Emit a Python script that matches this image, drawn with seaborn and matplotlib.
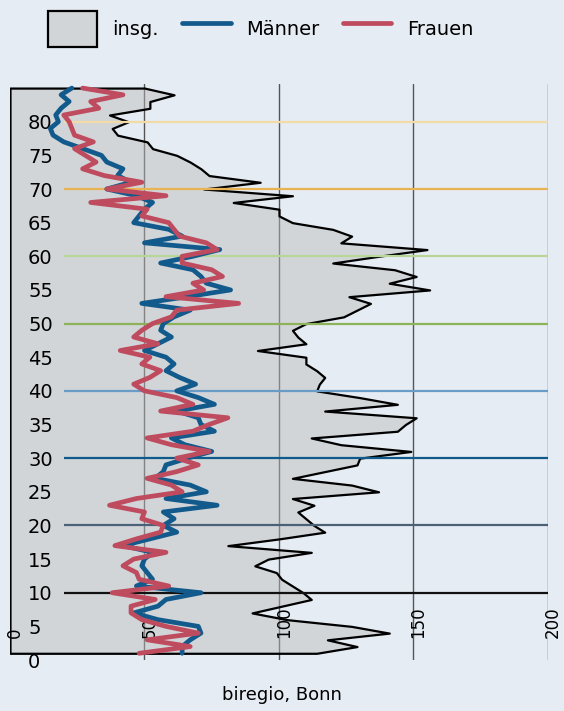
import matplotlib.pyplot as plt
import matplotlib.transforms as mtransforms
import seaborn as sns

# Daten: Alter 1..85, Einwohner je Altersjahr
alter = list(range(1, 86))

insg = [114, 129, 118, 141, 127, 103, 90, 101, 112, 109,
        105, 101, 99, 91, 96, 112, 81, 100, 117, 113,
        110, 107, 113, 105, 137, 127, 105, 117, 129, 130,
        149, 123, 112, 144, 147, 151, 117, 144, 130, 114,
        115, 117, 114, 110, 110, 92, 110, 107, 105, 110,
        124, 129, 134, 126, 156, 141, 151, 143, 120, 137,
        155, 123, 127, 120, 105, 100, 100, 83, 105, 72,
        93, 74, 71, 67, 62, 53, 51, 40, 38, 44,
        37, 52, 52, 61, 50]

maenner = [64, 64, 67, 71, 70, 55, 46, 55, 58, 71,
           47, 53, 51, 49, 50, 53, 42, 52, 62, 57,
           61, 57, 77, 58, 73, 67, 54, 57, 58, 66,
           75, 65, 60, 76, 71, 70, 62, 76, 70, 62,
           69, 63, 58, 61, 58, 50, 55, 60, 56, 57,
           61, 67, 49, 66, 82, 73, 71, 68, 56, 68,
           78, 50, 64, 59, 46, 48, 50, 53, 47, 36,
           45, 40, 42, 36, 34, 27, 20, 16, 15, 18,
           17, 19, 22, 19, 23]

frauen = [48, 67, 51, 70, 58, 49, 45, 45, 54, 38,
          59, 48, 47, 42, 46, 58, 39, 47, 56, 57,
          49, 50, 37, 47, 64, 60, 51, 62, 70, 62,
          74, 60, 51, 68, 74, 81, 56, 68, 62, 50,
          46, 52, 56, 49, 52, 41, 55, 46, 49, 53,
          60, 62, 85, 58, 72, 68, 79, 75, 64, 64,
          77, 73, 63, 61, 59, 49, 51, 30, 58, 36,
          49, 35, 27, 32, 28, 24, 31, 24, 23, 22,
          20, 33, 30, 42, 27]

# Markierungslinien alle 10 Jahre
marken = [10, 20, 30, 40, 50, 60, 70, 80]
marken_farben = ['#111111', '#4a6177', '#0e5a8a', '#6a9cc8',
                 '#8cb35a', '#b9d699', '#e8b350', '#f3dba8']

x_ticks = [0, 50, 100, 150, 200]
y_ticks = list(range(0, 81, 5))

bg = '#e6ecf3'
blau = '#125a8c'
rot = '#bf4b5f'

sns.set_theme(style="white")
plt.rcParams['font.family'] = ['DejaVu Sans']
plt.rcParams['text.color'] = 'black'
plt.rcParams['xtick.color'] = 'black'
plt.rcParams['ytick.color'] = 'black'

fig = plt.figure(figsize=(5.64, 7.11), dpi=100, facecolor=bg)
ax = fig.add_axes([0.0177, 0.0717, 0.9539, 0.8101])
ax.set_facecolor(bg)

# Gitterlinien unter der Flaeche, Beschriftung darueber
for xt in x_ticks[1:]:
    ax.axvline(xt, color='#555555', lw=1, zorder=1)

ax.fill_betweenx(alter, 0, insg, facecolor=(0.73, 0.73, 0.73, 0.46),
                 edgecolor='black', linewidth=1.6, label='insg.', zorder=2)

for y, c in zip(marken, marken_farben):
    ax.hlines(y, 20, 200, color=c, lw=1.6, zorder=3)

sns.lineplot(x=maenner, y=alter, orient='y', color=blau, lw=3.4,
             label='Männer', ax=ax, zorder=4)
sns.lineplot(x=frauen, y=alter, orient='y', color=rot, lw=3.4,
             label='Frauen', ax=ax, zorder=5)

ax.set_xlim(0, 200)
ax.set_ylim(0, 85.6)
ax.set_xticks(x_ticks)
ax.set_yticks(y_ticks)
ax.set_xlabel('')
ax.set_ylabel('')
ax.grid(False)
ax.set_axisbelow(False)
for s in ax.spines.values():
    s.set_visible(False)

ax.tick_params(axis='y', length=0, pad=-13, labelsize=14, labelcolor='black')
for lbl in ax.get_yticklabels():
    lbl.set_ha('left')

ax.tick_params(axis='x', length=0, pad=-16, labelsize=12,
               labelrotation=90, labelcolor='black')
shift = mtransforms.ScaledTranslation(-3 / 72, 0, fig.dpi_scale_trans)
for lbl in ax.get_xticklabels():
    lbl.set_ha('left')
    lbl.set_va('bottom')
    lbl.set_transform(lbl.get_transform() + shift)

handles, labels = ax.get_legend_handles_labels()
ax.legend_.remove()
fig.legend(handles, labels, loc='center', bbox_to_anchor=(0.462, 0.959),
           ncol=3, frameon=False, fontsize=14, handlelength=2.5,
           handleheight=2.5, handletextpad=0.8, columnspacing=1.2)

fig.text(0.5, 0.0225, 'biregio, Bonn', ha='center', va='center', fontsize=13)

fig.savefig('out.png', dpi=100, facecolor=bg)
